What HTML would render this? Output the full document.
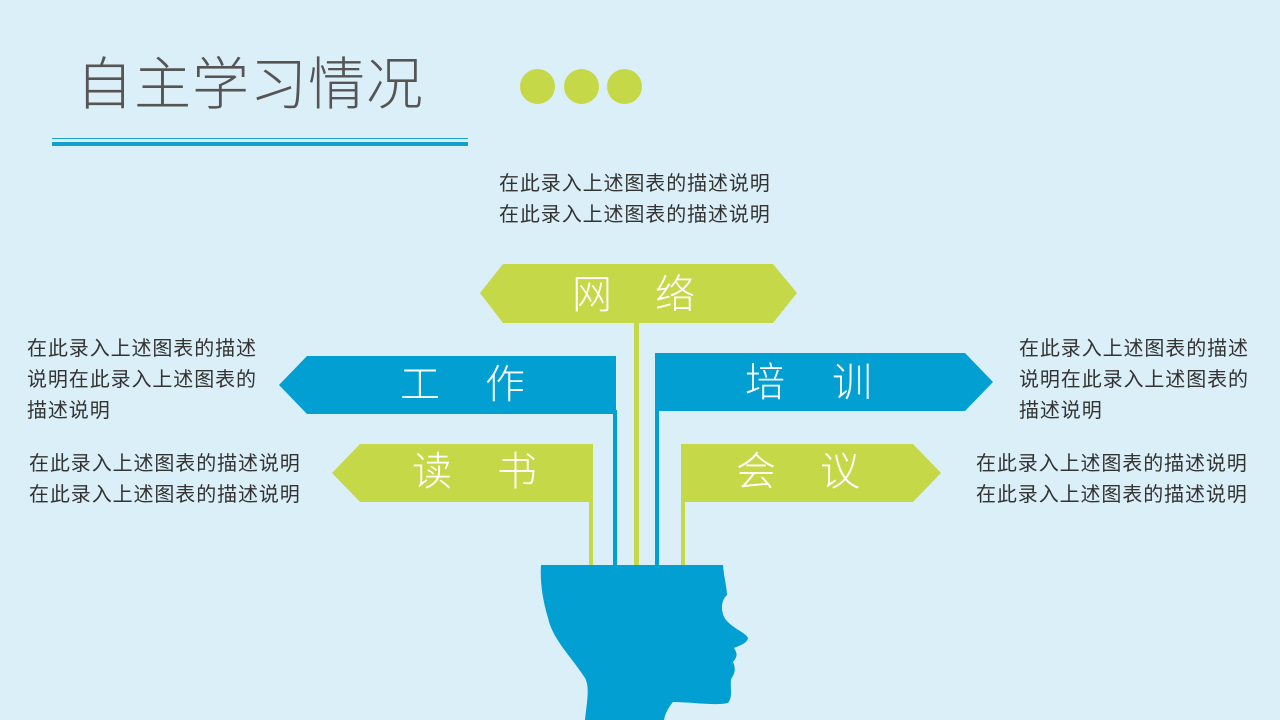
<!DOCTYPE html>
<html><head><meta charset="utf-8"><style>
body{margin:0;width:1280px;height:720px;background:#dbeff8;position:relative;overflow:hidden;font-family:"Liberation Sans","Noto Sans CJK SC",sans-serif}
.t{position:absolute;font-size:20px;line-height:31px;color:#333;white-space:nowrap;letter-spacing:0.9px}
.title{position:absolute;left:76px;top:50px;font-size:57px;color:#555;letter-spacing:1px;line-height:70px;font-weight:300}
.c{position:absolute;width:35px;height:35px;border-radius:50%;background:#c5d948;top:69px}
</style></head><body>
<div class="title">自主学习情况</div>
<div class="c" style="left:520px"></div><div class="c" style="left:564px"></div><div class="c" style="left:607px"></div>
<div style="position:absolute;left:52px;top:138px;width:416px;height:1px;background:#1aa3d0"></div>
<div style="position:absolute;left:52px;top:142px;width:416px;height:4px;background:#14a0cc"></div>

<div class="t" style="left:499px;top:169px">在此录入上述图表的描述说明<br>在此录入上述图表的描述说明</div>
<div class="t" style="left:27px;top:334px">在此录入上述图表的描述<br>说明在此录入上述图表的<br>描述说明</div>
<div class="t" style="left:1019px;top:334px">在此录入上述图表的描述<br>说明在此录入上述图表的<br>描述说明</div>
<div class="t" style="left:29px;top:449px">在此录入上述图表的描述说明<br>在此录入上述图表的描述说明</div>
<div class="t" style="left:976px;top:449px">在此录入上述图表的描述说明<br>在此录入上述图表的描述说明</div>

<svg width="1280" height="720" style="position:absolute;left:0;top:0">
<g>
<rect x="634" y="320" width="5" height="248" fill="#c5d948"/>
<rect x="613" y="410" width="4" height="158" fill="#02a0d2"/>
<rect x="655" y="353" width="4" height="215" fill="#02a0d2"/>
<rect x="589" y="500" width="4" height="68" fill="#c5d948"/>
<rect x="681" y="500" width="4" height="68" fill="#c5d948"/>
<polygon points="480,293 503,264 773,264 797,293 773,323 503,323" fill="#c5d948"/>
<polygon points="279,385 307,356 616,356 616,414 307,414" fill="#02a0d2"/>
<polygon points="655,353 965,353 993,382 965,411 655,411" fill="#02a0d2"/>
<polygon points="332,473 360,444 593,444 593,502 360,502" fill="#c5d948"/>
<polygon points="681,444 913,444 941,473 913,502 681,502" fill="#c5d948"/>
<path d="M541,565 L723,565 C724,578 727,588 727,595 C721,600 720,612 726,620 C735,630 745,632 748,638 C747,644 738,646 734,648 C738,654 737,657 733,662 C736,668 735,674 731,679 C730,688 733,697 728,703 C716,706 690,702 673,702 C668,708 665,714 664,720 L585,720 C587,700 590,688 585,678 C570,655 553,640 548,618 C542,598 540,580 541,565 Z" fill="#02a0d2"/>
</g>
<g fill="#fff" font-family="Liberation Sans,Noto Sans CJK SC,sans-serif" font-size="40" font-weight="300" text-anchor="middle" dominant-baseline="central">
<text x="592" y="295">网</text><text x="675" y="295">络</text>
<text x="420" y="385">工</text><text x="505" y="385">作</text>
<text x="765" y="383">培</text><text x="852" y="383">训</text>
<text x="432" y="472">读</text><text x="517" y="472">书</text>
<text x="756" y="472">会</text><text x="840" y="472">议</text>
</g>
</svg>
</body></html>
